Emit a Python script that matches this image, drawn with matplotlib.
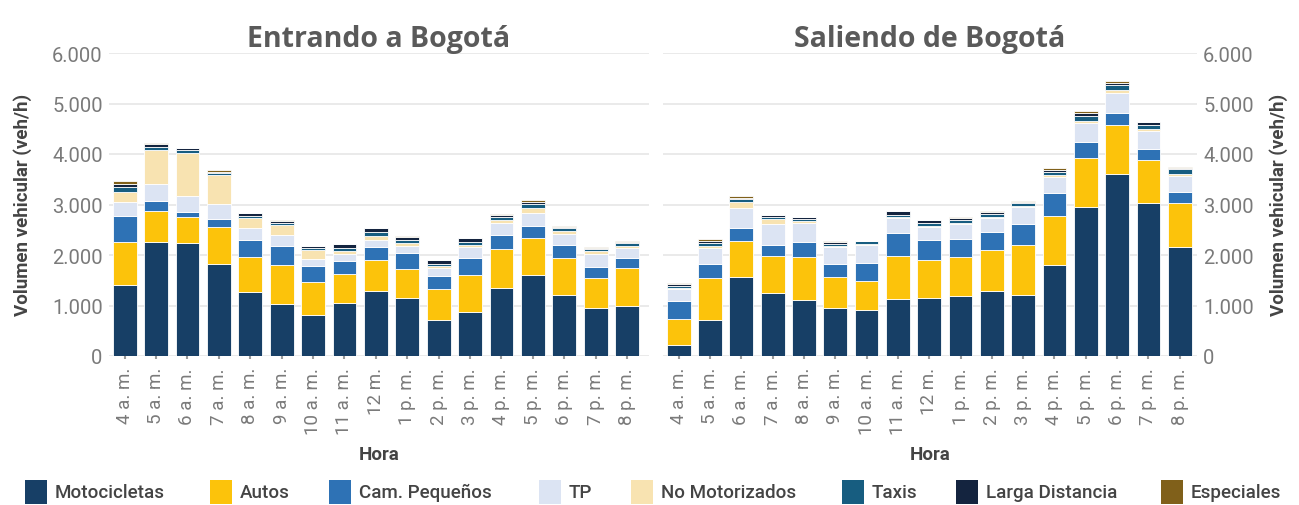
import matplotlib
matplotlib.use("Agg")
import matplotlib.pyplot as plt
from matplotlib import font_manager
from matplotlib.patches import Rectangle
from matplotlib.ticker import FuncFormatter, MultipleLocator
import numpy as np

hours = ["4 a. m.", "5 a. m.", "6 a. m.", "7 a. m.", "8 a. m.", "9 a. m.", "10 a. m.",
         "11 a. m.", "12 m.", "1 p. m.", "2 p. m.", "3 p. m.", "4 p. m.", "5 p. m.",
         "6 p. m.", "7 p. m.", "8 p. m."]
categories = ["Motocicletas", "Autos", "Cam. Pequeños", "TP", "No Motorizados",
              "Taxis", "Larga Distancia", "Especiales"]

# Entrando a Bogotá
in_moto = [1410, 2250, 2240, 1830, 1260, 1020, 810, 1040, 1280, 1140, 710, 880, 1350, 1600, 1210, 950, 1000]
in_autos = [850, 620, 510, 730, 710, 790, 660, 590, 620, 580, 610, 720, 770, 730, 740, 590, 740]
in_cam = [510, 200, 110, 150, 320, 370, 310, 260, 260, 310, 260, 350, 280, 240, 250, 230, 210]
in_tp = [270, 340, 300, 300, 240, 220, 150, 120, 140, 140, 160, 210, 230, 260, 210, 250, 190]
in_nomot = [200, 670, 860, 570, 200, 190, 170, 60, 80, 70, 50, 40, 60, 110, 70, 50, 40]
in_taxis = [100, 60, 50, 50, 50, 50, 40, 60, 70, 60, 40, 60, 60, 70, 50, 40, 60]
in_larga = [70, 50, 40, 20, 50, 40, 30, 90, 80, 50, 80, 70, 50, 40, 30, 30, 20]
in_esp = [60, 20, 10, 30, 10, 10, 10, 0, 10, 20, 0, 10, 10, 30, 20, 10, 10]

# Saliendo de Bogotá
out_moto = [220, 710, 1560, 1250, 1110, 950, 920, 1130, 1150, 1190, 1280, 1210, 1800, 2960, 3600, 3020, 2150]
out_autos = [510, 830, 720, 730, 850, 620, 570, 860, 750, 780, 820, 990, 980, 970, 970, 860, 880]
out_cam = [350, 290, 260, 220, 300, 250, 350, 440, 400, 350, 360, 420, 440, 310, 240, 210, 210]
out_tp = [240, 300, 400, 410, 370, 340, 360, 300, 250, 300, 280, 330, 320, 370, 400, 370, 330]
out_nomot = [20, 40, 100, 100, 40, 20, 20, 30, 30, 20, 20, 30, 40, 50, 50, 30, 30]
out_taxis = [50, 60, 60, 40, 40, 40, 60, 30, 50, 50, 50, 50, 70, 100, 100, 80, 100]
out_larga = [30, 50, 30, 40, 40, 30, 0, 80, 60, 50, 50, 20, 40, 50, 50, 60, 30]
out_esp = [20, 40, 30, 0, 0, 20, 0, 0, 0, 10, 10, 20, 40, 40, 30, 0, 10]

colors = ["#173f66", "#fcc30b", "#2e72b5", "#dce4f3", "#f8e3b1", "#175d80", "#14243f", "#80601a"]

avail = {f.name for f in font_manager.fontManager.ttflist}
title_font = "Open Sans" if "Open Sans" in avail else "DejaVu Sans"

plt.rcParams["font.family"] = ["Roboto", "DejaVu Sans"]

fig = plt.figure(figsize=(12.99, 5.06), dpi=100)
W, H = 1299, 506
bottom = (H - 357) / H
top = (H - 54) / H
axL = fig.add_axes([109 / W, bottom, (649 - 109) / W, top - bottom])
axR = fig.add_axes([663 / W, bottom, (1197 - 663) / W, top - bottom])

fmt = FuncFormatter(lambda v, p: f"{int(v):,}".replace(",", "."))

def draw(ax, series, title, side):
    x = np.arange(len(hours))
    base = np.zeros(len(hours))
    for vals, c, name in zip(series, colors, categories):
        v = np.array(vals, dtype=float)
        ax.bar(x, v, bottom=base, width=0.76, color=c, edgecolor="white",
               linewidth=0.6, label=name, zorder=3)
        base += v
    ax.set_ylim(0, 6000)
    ax.set_xlim(-0.5, 16.7 if side == "left" else 16.55)
    ax.yaxis.set_major_locator(MultipleLocator(1000))
    ax.yaxis.set_major_formatter(fmt)
    ax.grid(axis="y", color="#e6e6e6", linewidth=1.2, zorder=0)
    for s in ax.spines.values():
        s.set_visible(False)
    ax.set_xticks(x)
    ax.set_xticklabels(hours, rotation=90, fontsize=13.5, color="#7a7a7a")
    ax.tick_params(axis="x", length=2, width=1.5, color="#9a9a9a", pad=6)
    ax.tick_params(axis="y", length=0, labelsize=14.5, labelcolor="#7a7a7a", pad=4.5)
    ax.set_xlabel("Hora", fontsize=13.5, fontweight="bold", color="#444444", labelpad=8)
    if side == "right":
        ax.yaxis.tick_right()
    ax.set_title(title, fontsize=20.5, fontweight="bold", color="#5a5a5a",
                 family=[title_font, "DejaVu Sans"], pad=5)

draw(axL, [in_moto, in_autos, in_cam, in_tp, in_nomot, in_taxis, in_larga, in_esp],
     "Entrando a Bogotá", "left")
draw(axR, [out_moto, out_autos, out_cam, out_tp, out_nomot, out_taxis, out_larga, out_esp],
     "Saliendo de Bogotá", "right")

ylab = "Volumen vehicular (veh/h)"
yc = 1 - 205 / H
fig.text(23 / W, yc, ylab, rotation=90, ha="center", va="center", fontsize=13.5,
         fontweight="bold", color="#444444")
fig.text(1279 / W, yc, ylab, rotation=90, ha="center", va="center", fontsize=13.5,
         fontweight="bold", color="#444444")

# legend laid out like the reference (one row across the bottom)
leg_x = [25, 210, 329, 539, 631, 842, 956, 1161]
leg_y = 493
for px, c, name in zip(leg_x, colors, categories):
    fig.patches.append(Rectangle((px / W, 1 - (leg_y + 12) / H), 22 / W, 24 / H,
                                 transform=fig.transFigure, facecolor=c, edgecolor="none"))
    fig.text((px + 30) / W, 1 - leg_y / H, name, fontsize=13.5, fontweight="medium",
             color="#444444", va="center", ha="left")

fig.savefig("out.png", dpi=100)
